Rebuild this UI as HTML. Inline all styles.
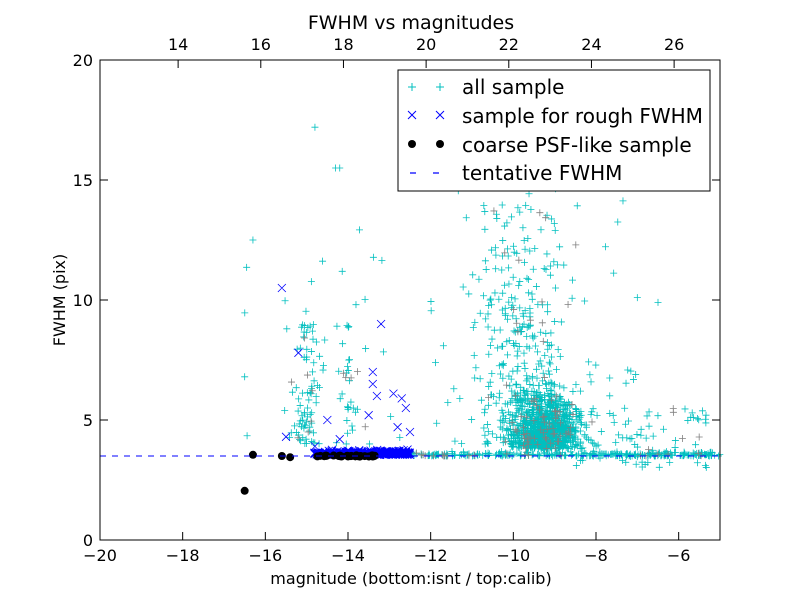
<!DOCTYPE html>
<html><head><meta charset="utf-8">
<style>
html,body{margin:0;padding:0;background:#fff;}
svg{display:block;font-family:"DejaVu Sans","Liberation Sans",sans-serif;}
</style></head>
<body>
<svg id="s" width="800" height="600" viewBox="0 0 800 600" xmlns="http://www.w3.org/2000/svg">
<rect width="800" height="600" fill="#fff"/>
<g id="pts"></g>
<line x1="100" y1="456" x2="720" y2="456" stroke="#0000ff" stroke-width="1" stroke-dasharray="6,6"/>
<rect x="100" y="60" width="620" height="480" fill="none" stroke="#000" stroke-width="1"/>
<g id="ticks" stroke="#000" stroke-width="1"></g>
<g id="labels" font-size="16" fill="#000"></g>
<text x="411" y="29" font-size="19" text-anchor="middle">FWHM vs magnitudes</text>
<text x="411" y="584" font-size="16" text-anchor="middle">magnitude (bottom:isnt / top:calib)</text>
<text transform="translate(65,300) rotate(-90)" font-size="16" text-anchor="middle">FWHM (pix)</text>
<g>
<rect x="398" y="70" width="312" height="121" fill="#fff" stroke="#000" stroke-width="1"/>
<g stroke="#00bfbf" stroke-width="1">
<path d="M408 87h8M412 83v8M436 87h8M440 83v8"/></g>
<g stroke="#0000ff" stroke-width="1">
<path d="M408 111l8 8M416 111l-8 8M436 111l8 8M444 111l-8 8"/></g>
<circle cx="412" cy="144" r="4" fill="#000"/><circle cx="440" cy="144" r="4" fill="#000"/>
<path d="M410 173h6M433 173h6" stroke="#0000ff" stroke-width="1.2"/>
<g font-size="20" fill="#000">
<text x="462" y="94">all sample</text>
<text x="462" y="123">sample for rough FWHM</text>
<text x="462" y="152">coarse PSF-like sample</text>
<text x="462" y="180">tentative FWHM</text>
</g>
</g>
</svg>
<script>
(function(){
var X=function(v){return 100+(v+20)*620/15;};
var Y=function(v){return 540-v*24;};
var seed=12345;function r(){seed=(seed*1103515245+12345)%2147483648;return seed/2147483648;}
function n(){return (r()+r()+r()+r()-2)/1.15;}
var cyan="",gray="",blue="",dots="";
function plus(x,y){return "M"+(x-3.5)+" "+y+"h7M"+x+" "+(y-3.5)+"v7";}
function cross(x,y){return "M"+(x-4)+" "+(y-4)+"l8 8M"+(x+4)+" "+(y-4)+"l-8 8";}
function addP(mx,my){var x=X(mx),y=Y(my);if(x<100||x>720||y<60||y>540)return;if(r()<0.06)gray+=plus(x,y);else cyan+=plus(x,y);}
var i;
for(i=0;i<300;i++){addP(-12.5+r()*7.5,3.5+Math.abs(n())*0.15);}
for(i=0;i<900;i++){var mx=-9.2+n()*0.8;var my=3.8+Math.abs(n())*2.2;addP(mx,my);}
for(i=0;i<300;i++){var mx=-9.8+n()*1.0;var my=4+Math.pow(r(),1.5)*10;addP(mx,my);}
for(i=0;i<100;i++){addP(-12+r()*5,4+Math.pow(r(),2)*14);}
for(i=0;i<80;i++){addP(-8.5+r()*3.2,3+r()*2.5);}
for(i=0;i<80;i++){addP(-15+n()*0.35,4+Math.pow(r(),1.5)*5);}
for(i=0;i<30;i++){addP(-14+n()*0.3,4+Math.pow(r(),1.5)*5);}
for(i=0;i<25;i++){addP(-16.5+r()*4,4+r()*9);}
addP(-14.8,17.2);addP(-14.3,15.5);addP(-14.2,15.5);addP(-16.5,6.8);addP(-16.3,12.5);addP(-7,10.1);addP(-6.5,9.9);
for(i=0;i<350;i++){var mx=-15+Math.pow(r(),0.6)*2.5;var x=X(mx),y=Y(3.55+Math.abs(n())*0.15);blue+=cross(x,y);}
[[-15.6,10.5],[-15.2,7.8],[-13.2,9],[-13.4,7],[-13.4,6.5],[-13.3,6],[-13.5,5.2],[-12.9,6.1],[-12.7,5.9],[-12.6,5.5],[-12.5,4.5],[-15.5,4.3],[-14.5,5],[-12.8,4.7],[-14.8,3.9],[-14.2,4.2]].forEach(function(p){blue+=cross(X(p[0]),Y(p[1]));});
var d=[[-16.5,2.05],[-16.3,3.55],[-15.6,3.5],[-15.4,3.45]];
for(i=0;i<30;i++){d.push([-14.8+r()*1.5,3.5+n()*0.03]);}
d.forEach(function(p){dots+='<circle cx="'+X(p[0])+'" cy="'+Y(p[1])+'" r="4" fill="#000"/>';});
document.getElementById("pts").innerHTML='<path d="'+cyan+'" stroke="#00bfbf" stroke-width="0.8" fill="none"/><path d="'+gray+'" stroke="#808080" stroke-width="0.8" fill="none"/><path d="'+blue+'" stroke="#0000ff" stroke-width="0.8" fill="none"/>'+dots;
var t="",l="";
for(var v=-20;v<=-6;v+=2){var x=X(v);t+='<line x1="'+x+'" y1="540" x2="'+x+'" y2="532"/>';l+='<text x="'+x+'" y="561" text-anchor="middle">\u2212'+(-v)+'</text>';}
for(var v=14;v<=26;v+=2){var x=X(v-32.11);t+='<line x1="'+x+'" y1="60" x2="'+x+'" y2="68"/>';l+='<text x="'+x+'" y="50" text-anchor="middle">'+v+'</text>';}
for(var v=0;v<=20;v+=5){var y=Y(v);t+='<line x1="100" y1="'+y+'" x2="108" y2="'+y+'"/><line x1="720" y1="'+y+'" x2="712" y2="'+y+'"/>';l+='<text x="93" y="'+(y+6)+'" text-anchor="end">'+v+'</text>';}
document.getElementById("ticks").innerHTML=t;
document.getElementById("labels").innerHTML=l;
})();
</script>
</body></html>
